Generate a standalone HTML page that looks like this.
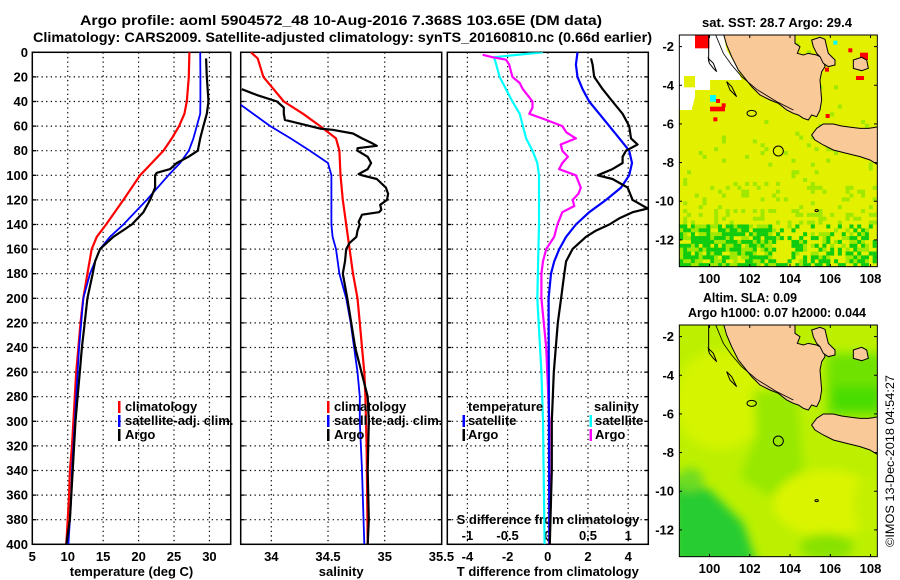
<!DOCTYPE html>
<html><head><meta charset="utf-8"><style>
html,body{margin:0;padding:0;background:#fff;}
svg{display:block;font-family:"Liberation Sans",Arial,sans-serif;font-weight:bold;}
</style></head><body>
<svg id="fig" width="900" height="580" viewBox="0 0 900 580" xmlns="http://www.w3.org/2000/svg">
<defs>
<clipPath id="c1"><rect x="32.3" y="52.3" width="198.4" height="492"/></clipPath>
<clipPath id="c2"><rect x="240.7" y="52.3" width="201" height="492"/></clipPath>
<clipPath id="c3"><rect x="447.3" y="52.3" width="201" height="492"/></clipPath>
<clipPath id="cm"><rect x="58" y="105" width="594" height="695"/></clipPath>
<filter id="blur" x="-20%" y="-20%" width="140%" height="140%"><feGaussianBlur stdDeviation="14"/></filter>
<g id="land">
<path d="M190,100 L405,100 L405,130 L420,140 L412,160 L430,165 L445,160 L470,165 L490,175 L495,200 L485,215 L480,240 L485,300 L480,330 L470,350 L455,345 L445,360 L430,355 L415,345 L400,340 L380,330 L355,310 L330,300 L300,285 L275,260 L255,235 L235,210 L215,170 L200,135 Z" fill="#f9c998" stroke="#000" stroke-width="3"/>
<path d="M455,120 L480,112 L495,118 L500,140 L505,160 L525,180 L525,195 L505,200 L490,190 L480,170 L470,160 L460,140 Z" fill="#f9c998" stroke="#000" stroke-width="3"/>
<path d="M580,180 L605,172 L620,180 L625,205 L605,212 L580,205 Z" fill="#f9c998" stroke="#000" stroke-width="3"/>
<path d="M470,385 L490,372 L520,372 L545,378 L575,382 L600,385 L625,385 L640,383 L655,380 L655,495 L630,480 L600,470 L560,460 L520,450 L490,435 L465,420 L455,405 Z" fill="#f9c998" stroke="#000" stroke-width="3"/>
<path d="M165,100 L190,160 L215,195 L245,230 L290,268 L350,305 L400,330" fill="none" stroke="#000" stroke-width="2.5"/>
<path d="M146,95 L146,185" stroke="#000" stroke-width="3"/>
<path d="M145,175 L160,190 L170,215 L160,205 L148,190 Z" fill="none" stroke="#000" stroke-width="3"/>
<path d="M200,245 L215,260 L230,290 L210,270 Z" fill="none" stroke="#000" stroke-width="3"/>
<ellipse cx="275" cy="340" rx="14" ry="9" fill="none" stroke="#000" stroke-width="3"/>
<ellipse cx="470" cy="632" rx="5" ry="3" fill="none" stroke="#000" stroke-width="3"/>
<circle cx="355" cy="453" r="15" fill="none" stroke="#000" stroke-width="3"/>
</g>
</defs>
<rect width="900" height="580" fill="#fff"/>
<text x="80" y="25" font-size="14" textLength="522" lengthAdjust="spacingAndGlyphs">Argo profile: aoml 5904572_48 10-Aug-2016 7.368S 103.65E (DM data)</text>
<text x="33" y="42" font-size="14" textLength="619" lengthAdjust="spacingAndGlyphs">Climatology: CARS2009. Satellite-adjusted climatology: synTS_20160810.nc (0.66d earlier)</text>
<g id="axes"></g>
<g id="curves"></g>
<g id="legends" font-size="13">
<rect x="118" y="401" width="2.5" height="12" fill="#f00"/>
<text x="125" y="411">climatology</text>
<rect x="118" y="415" width="2.5" height="12" fill="#00f"/>
<text x="125" y="425">satellite-adj. clim.</text>
<rect x="118" y="429" width="2.5" height="12" fill="#000"/>
<text x="125" y="439">Argo</text>
<rect x="327" y="401" width="2.5" height="12" fill="#f00"/>
<text x="334" y="411">climatology</text>
<rect x="327" y="415" width="2.5" height="12" fill="#00f"/>
<text x="334" y="425">satellite-adj. clim.</text>
<rect x="327" y="429" width="2.5" height="12" fill="#000"/>
<text x="334" y="439">Argo</text>
<text x="468" y="411">temperature</text>
<rect x="462.5" y="415" width="2.5" height="12" fill="#00f"/>
<text x="468" y="425">satellite</text>
<rect x="462.5" y="429" width="2.5" height="12" fill="#000"/>
<text x="468" y="439">Argo</text>
<text x="594" y="411">salinity</text>
<rect x="589.5" y="415" width="2.5" height="12" fill="#0ff"/>
<text x="595" y="425">satellite</text>
<rect x="589.5" y="429" width="2.5" height="12" fill="#f0f"/>
<text x="595" y="439">Argo</text>
</g>
<!-- top map -->
<text x="702" y="27" font-size="13" textLength="150" lengthAdjust="spacingAndGlyphs">sat. SST: 28.7 Argo: 29.4</text>
<g transform="translate(660,0) scale(0.33333)">
<g clip-path="url(#cm)">
<rect x="58" y="105" width="594" height="695" fill="#e3f000"/>
<g id="sstcells"></g>
<path d="M58,100 L190,100 L200,150 L230,200 L245,240 L150,240 L150,270 L105,270 L105,290 L95,330 L58,330 Z" fill="#fff"/>
<rect x="72" y="228" width="33" height="34" fill="#e3f000"/>
<rect x="105" y="105" width="43" height="40" fill="#f00"/>
<rect x="150" y="285" width="18" height="20" fill="#0ff"/>
<rect x="168" y="297" width="12" height="12" fill="#f00"/>
<rect x="150" y="320" width="45" height="14" fill="#f00"/>
<rect x="185" y="310" width="12" height="12" fill="#f00"/>
<rect x="160" y="352" width="12" height="12" fill="#f00"/>
<rect x="600" y="158" width="24" height="22" fill="#f00"/>
<rect x="588" y="228" width="24" height="12" fill="#f00"/>
<rect x="495" y="203" width="12" height="12" fill="#f00"/>
<rect x="565" y="145" width="12" height="12" fill="#f00"/>
<rect x="520" y="122" width="12" height="12" fill="#0ff"/>
<rect x="497" y="342" width="12" height="12" fill="#f00"/>
<use href="#land"/>
</g>
<rect x="58" y="105" width="594" height="695" fill="none" stroke="#000" stroke-width="3"/>
</g>
<!-- bottom map -->
<text x="703" y="302" font-size="13" textLength="94" lengthAdjust="spacingAndGlyphs">Altim. SLA: 0.09</text>
<text x="688" y="317" font-size="13" textLength="178" lengthAdjust="spacingAndGlyphs">Argo h1000: 0.07 h2000: 0.044</text>
<g transform="translate(660,290) scale(0.33333)">
<g clip-path="url(#cm)">
<rect x="58" y="105" width="594" height="695" fill="#bcf000"/>
<g filter="url(#blur)">
<ellipse cx="180" cy="330" rx="140" ry="150" fill="#d4f400"/>
<path d="M280,300 L410,310 L430,540 L330,620 L240,560 L290,440 Z" fill="#98e800"/>
<path d="M40,560 L150,600 L250,700 L290,820 L40,820 Z" fill="#28cc30"/>
<ellipse cx="90" cy="570" rx="40" ry="35" fill="#70dc20"/>
<ellipse cx="500" cy="640" rx="160" ry="100" fill="#daf400"/>
<ellipse cx="500" cy="770" rx="80" ry="40" fill="#88e200"/>
<rect x="500" y="190" width="170" height="190" fill="#70e200"/>
<rect x="520" y="290" width="140" height="70" fill="#48dc00"/>
<ellipse cx="620" cy="640" rx="40" ry="80" fill="#c4f000"/>
</g>
<use href="#land"/>
</g>
<rect x="58" y="105" width="594" height="695" fill="none" stroke="#000" stroke-width="3"/>
</g>
<g id="mapaxes" font-size="13"></g>
<text transform="translate(894,547) rotate(-90)" font-size="12" font-weight="normal" textLength="172" lengthAdjust="spacingAndGlyphs">©IMOS 13-Dec-2018 04:54:27</text>
</svg>
<script>
// ---- data ----
const depthTicks=[0,20,40,60,80,100,120,140,160,180,200,220,240,260,280,300,320,340,360,380,400];
const tempTicks=[5,10,15,20,25,30];
const salTicks=[34,34.5,35,35.5];
const salTickLabels=["34","34.5","35","35.5"];
const diffTicks=[-4,-2,0,2,4];
const sdiffTicks=[-1,-0.5,0,0.5,1];
const sdiffTickLabels=["-1","-0.5","0","0.5","1"];
const lonTicks=[100,102,104,106,108];
const latTicks=[-2,-4,-6,-8,-10,-12];

const tClimDepth=[0,20,40,50,60,70,80,90,100,120,140,150,160,180,200,220,240,260,280,300,320,340,360,380,400];
const tClimVal=[27.17,27.09,26.81,26.47,25.72,24.69,23.50,21.86,20.21,17.85,15.41,14.10,13.39,12.77,12.20,11.8,11.5,11.2,11.0,10.8,10.6,10.3,10.2,10.0,9.8];
const tSatDepth=[0,20,40,50,60,70,80,90,100,120,140,150,160,180,200,220,240,260,280,300,320,340,360,380,400];
const tSatVal=[28.69,28.73,28.73,28.69,28.22,27.74,27.09,25.86,24.21,21.16,17.85,15.97,14.56,13.15,12.20,11.9,11.6,11.4,11.2,11.0,10.8,10.6,10.5,10.3,10.1];
const tArgoDepth=[5,20,40,50,60,70,80,85,90,95,98,100,110,120,130,140,150,160,170,180,200,220,240,260,280,300,320,340,360,380,400];
const tArgoVal=[29.53,29.63,29.86,29.63,29.15,28.69,28.36,27.03,25.39,24.45,22.57,22.33,22.33,21.62,20.68,19.04,16.44,14.56,13.86,13.53,12.77,12.4,12.0,11.7,11.4,11.1,10.9,10.7,10.5,10.3,9.8];

const sClimDepth=[0,5,20,30,40,50,60,70,80,100,120,140,160,180,200,220,240,260,280,320,400];
const sClimVal=[33.82,33.88,33.93,34.02,34.11,34.28,34.43,34.57,34.60,34.61,34.63,34.66,34.69,34.72,34.76,34.78,34.80,34.82,34.83,34.84,34.85];
const sSatDepth=[42,60,70,80,90,100,120,140,150,160,180,200,220,240,260,280,300,340,400];
const sSatVal=[33.72,33.99,34.17,34.34,34.50,34.53,34.53,34.53,34.54,34.57,34.60,34.66,34.70,34.73,34.76,34.78,34.78,34.80,34.82];
const sArgoDepth=[30,35,40,45,50,55,58,62,63,66,70,74,76,78,80,85,90,95,99,100,103,110,115,120,124,128,130,132,138,140,145,150,155,160,170,180,200,240,280,300,340,380,400];
const sArgoVal=[33.74,33.88,34.05,34.11,34.11,34.12,34.25,34.43,34.54,34.72,34.80,34.89,34.93,34.76,34.76,34.85,34.88,34.85,34.77,34.80,34.93,35.01,35.03,35.02,34.96,34.97,34.95,34.80,34.77,34.78,34.76,34.75,34.69,34.66,34.65,34.63,34.67,34.74,34.85,34.86,34.85,34.86,34.85];

const dTSatDepth=[0,10,20,30,40,50,60,70,80,90,100,110,120,130,140,150,160,170,180,200,260,320,400];
const dTSatVal=[1.48,1.40,1.48,1.73,2.06,2.56,3.06,3.56,4.05,4.19,4.05,3.64,2.90,2.06,1.40,0.91,0.57,0.32,0.16,0.04,0.05,0.06,0.08];
const dTArgoDepth=[5,10,20,30,40,50,60,70,75,80,85,90,95,100,103,110,120,127,130,135,140,145,150,160,170,180,190,200,220,240,260,300,340,400];
const dTArgoVal=[2.15,2.23,2.31,2.73,3.22,3.72,4.05,4.14,4.47,3.89,3.72,3.72,3.22,2.48,3.22,3.97,4.22,4.97,4.22,3.56,3.06,2.40,1.90,1.23,0.91,0.82,0.74,0.66,0.5,0.4,0.3,0.2,0.2,0.1];
const dSSatDepth=[0,4,10,20,30,40,50,60,70,80,90,100,140,200,260,300,400];
const dSSatVal=[-0.06,-0.67,-0.64,-0.60,-0.52,-0.44,-0.35,-0.31,-0.27,-0.19,-0.13,-0.11,-0.11,-0.13,-0.08,-0.06,-0.04];
const dSArgoDepth=[2,4,6,10,20,25,30,40,45,50,55,60,65,70,75,80,85,90,95,100,110,115,120,125,130,140,150,160,170,180,200,240,300,400];
const dSArgoVal=[-0.81,-0.69,-0.52,-0.48,-0.44,-0.35,-0.31,-0.19,-0.19,-0.23,-0.02,0.18,0.23,0.35,0.16,0.18,0.25,0.18,0.14,0.35,0.41,0.38,0.31,0.33,0.18,0.12,0.08,-0.02,-0.06,-0.08,-0.08,-0.02,0.02,0.02];

// ---- scales ----
const Y0=52.3, Y1=544.3;
function yD(d){return Y0+d*(Y1-Y0)/400;}
function xT(t){return 32.3+(t-5)*(230.7-32.3)/28;}
function xS(s){return 240.7+(s-33.73)*113.4;}
function xdT(v){return 547.8+v*20.1;}
function xdS(v){return 547.8+v*80.4;}
function lonX(l){return 679.3+(l-98.5)*20.13;}
function latY(l){return 35+(-1.4-l)*19.33;}

const NS="http://www.w3.org/2000/svg";
function mk(tag,attrs,parent){const e=document.createElementNS(NS,tag);for(const k in attrs)e.setAttribute(k,attrs[k]);parent.appendChild(e);return e;}
const axes=document.getElementById('axes');
const curves=document.getElementById('curves');
const mapaxes=document.getElementById('mapaxes');

const panels=[
 {x0:32.3,x1:230.7,ticks:tempTicks,labels:tempTicks.map(String),fx:xT,title:"temperature (deg C)",name:"temperature"},
 {x0:240.7,x1:441.7,ticks:salTicks,labels:salTickLabels,fx:xS,title:"salinity",name:"salinity"},
 {x0:447.3,x1:648.3,ticks:diffTicks,labels:diffTicks.map(String),fx:xdT,title:"T difference from climatology",name:"difference"}
];
panels.forEach((p,pi)=>{
  const g=mk('g',{},axes);
  
  
  depthTicks.forEach(d=>{
    const y=yD(d);
    if(d>0&&d<400){const l=mk('line',{x1:p.x0,x2:p.x1,y1:y,y2:y,stroke:'#000','stroke-width':1.2,'stroke-dasharray':'1.3,3.3'},g);
      
      }
    mk('line',{x1:p.x0,x2:p.x0+4,y1:y,y2:y,stroke:'#000','stroke-width':1.3},g);
    mk('line',{x1:p.x1,x2:p.x1-4,y1:y,y2:y,stroke:'#000','stroke-width':1.3},g);
    if(pi===0){const t=mk('text',{x:28,y:y+4.5,'text-anchor':'end','font-size':13},g);t.textContent=d;
      
      }
  });
  p.ticks.forEach((v,i)=>{
    const x=p.fx(v);
    if(x>p.x0+1&&x<p.x1-1){const l=mk('line',{x1:x,x2:x,y1:Y0,y2:Y1,stroke:'#000','stroke-width':1.2,'stroke-dasharray':'1.3,3.3'},g);
      
      }
    const t=mk('text',{x:x,y:561,'text-anchor':'middle','font-size':13},g);t.textContent=p.labels[i];
    
    
  });
  const r=mk('rect',{x:p.x0,y:Y0,width:p.x1-p.x0,height:Y1-Y0,fill:'none',stroke:'#000','stroke-width':1.5},g);
  
  
  const tt=mk('text',{x:(p.x0+p.x1)/2,y:576,'text-anchor':'middle','font-size':13},g);tt.textContent=p.title;
  
  
});
// S difference axis
sdiffTicks.forEach((v,i)=>{
  const t=mk('text',{x:xdS(v),y:540,'text-anchor':'middle','font-size':13},axes);t.textContent=sdiffTickLabels[i];
  
  
});
const st=mk('text',{x:548,y:524,'text-anchor':'middle','font-size':13},axes);st.textContent='S difference from climatology';



function line(depths,vals,fx,color,clip,name,w){
  const pts=depths.map((d,i)=>fx(vals[i]).toFixed(1)+','+yD(d).toFixed(1)).join(' ');
  const pl=mk('polyline',{points:pts,fill:'none',stroke:color,'stroke-width':w||2.2,'stroke-linejoin':'round','clip-path':'url(#'+clip+')'},curves);
  
  
}
line(tClimDepth,tClimVal,xT,'#f00','c1','temperature-climatology-line');
line(tSatDepth,tSatVal,xT,'#00f','c1','temperature-satellite-line',1.8);
line(tArgoDepth,tArgoVal,xT,'#000','c1','temperature-argo-line');
line(sClimDepth,sClimVal,xS,'#f00','c2','salinity-climatology-line');
line(sSatDepth,sSatVal,xS,'#00f','c2','salinity-satellite-line',1.8);
line(sArgoDepth,sArgoVal,xS,'#000','c2','salinity-argo-line');
line(dSSatDepth,dSSatVal,xdS,'#0ff','c3','s-diff-satellite-line');
line(dSArgoDepth,dSArgoVal,xdS,'#f0f','c3','s-diff-argo-line');
line(dTSatDepth,dTSatVal,xdT,'#00f','c3','t-diff-satellite-line');
line(dTArgoDepth,dTArgoVal,xdT,'#000','c3','t-diff-argo-line');

// map axes
[[35,267,283],[325,557,573]].forEach(([top,bot,ly],mi)=>{
  lonTicks.forEach(l=>{
    const x=lonX(l);
    mk('line',{x1:x,x2:x,y1:top,y2:top+3,stroke:'#000'},mapaxes);
    mk('line',{x1:x,x2:x,y1:bot,y2:bot-3,stroke:'#000'},mapaxes);
    const t=mk('text',{x:x,y:ly,'text-anchor':'middle'},mapaxes);t.textContent=l;
    
    
  });
  latTicks.forEach(l=>{
    const y=latY(l)+(mi?290:0);
    mk('line',{x1:877,x2:874,y1:y,y2:y,stroke:'#000'},mapaxes);
    mk('line',{x1:679,x2:682,y1:y,y2:y,stroke:'#000'},mapaxes);
    const t=mk('text',{x:674,y:y+4.5,'text-anchor':'end'},mapaxes);t.textContent=l;
    
    
  });
});

// SST map texture cells (decorative)
const cells=document.getElementById('sstcells');
const cs=11.6;
for(let j=0;j<60;j++){for(let i=0;i<52;i++){
  const x=58+i*cs,y=105+j*cs;
  let h=Math.sin(i*12.9898+j*78.233)*43758.5453;h=h-Math.floor(h);
  let p=0.015;
  if(y>400)p=0.06; if(y>540)p=0.16; if(y>620)p=0.28;
  if(y>670){ if(x<330)p=0.85; else if(x>400&&y>690)p=0.55; else p=0.3; }
  if(h<p){
    const dark=(y>670&&h<p*0.6);
    mk('rect',{x:x,y:y,width:cs+0.5,height:cs+0.5,fill:dark?'#10cc10':'#a0e800'},cells);
  }
}}
</script>
</body></html>
